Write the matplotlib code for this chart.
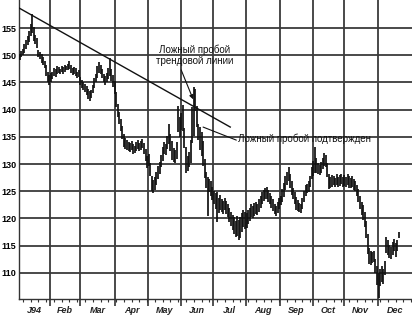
import numpy as np
import matplotlib
matplotlib.use("Agg")
import matplotlib.pyplot as plt
from matplotlib.transforms import blended_transform_factory

# trading-day OHLC ranges (high / low), one entry per day
high = [
    # Jan
    150.3, 150.8, 151.2, 152.0, 152.8, 153.5, 154.5, 155.8, 157.6, 155.2,
    153.8, 153.2, 151.0, 150.6, 150.2, 149.6, 149.0, 148.2, 147.0, 146.4,
    # Feb
    146.8, 147.0, 147.6, 147.4, 148.0, 147.8, 147.5, 148.0, 147.8, 148.2,
    148.0, 148.4, 148.9, 148.2, 147.6, 147.8, 147.6, 147.0, 147.2,
    # Mar
    146.0, 145.4, 145.0, 144.8, 144.4, 143.8, 143.4, 143.6, 144.6, 145.8,
    146.6, 148.0, 148.8, 148.2, 147.4, 146.6, 146.2, 146.8, 147.6, 149.4,
    147.4, 146.4, 145.2,
    # Apr
    143.2, 141.0, 139.6, 138.2, 137.0, 135.6, 134.8, 134.4, 134.0, 133.8,
    134.2, 133.6, 133.4, 134.0, 134.4, 133.8, 134.2, 134.6, 133.8, 132.8,
    131.4,
    # May
    131.8, 130.2, 127.8, 127.0, 127.6, 128.6, 129.6, 130.4, 131.6, 133.2,
    134.0, 133.6, 135.2, 137.4, 135.6, 134.2, 133.0, 132.6, 134.0, 140.6,
    138.6,
    # Jun
    139.4, 140.8, 136.6, 133.2, 131.4, 132.2, 134.4, 140.4, 144.2, 143.8,
    140.6, 137.4, 136.8, 135.8, 134.2, 131.0, 128.6, 127.6, 127.2, 126.8,
    125.8,
    # Jul
    125.0, 124.6, 124.8, 123.8, 124.4, 123.6, 123.2, 123.8, 123.2, 122.6,
    122.0, 121.2, 120.6, 120.2, 119.6, 120.4, 119.8, 120.2, 121.0, 121.6,
    121.2,
    # Aug
    121.0, 121.6, 122.0, 122.6, 122.2, 122.8, 123.0, 122.6, 123.6, 124.2,
    124.8, 125.2, 125.6, 125.8, 125.2, 124.6, 124.2, 123.6, 122.6, 122.2,
    123.0, 123.8,
    # Sep
    124.2, 125.4, 126.6, 127.8, 128.6, 129.4, 128.2, 126.8, 125.6, 124.8,
    124.0, 123.4, 122.8, 122.6, 123.8, 125.0, 126.2, 126.4, 126.8, 127.8,
    129.4,
    # Oct
    130.6, 133.2, 131.2, 130.2, 129.8, 130.4, 131.2, 132.0, 131.6, 130.2,
    128.2, 127.6, 128.0, 127.8, 127.4, 128.2, 127.6, 128.0, 128.2, 127.6,
    # Nov
    128.0, 127.6, 128.2, 127.8, 127.4, 127.8, 127.2, 126.8, 126.2, 125.4,
    124.2, 123.0, 122.4, 121.2, 119.6, 117.2, 114.6, 114.0, 113.8, 114.0,
    112.6, 111.2,
    # Dec
    110.0, 110.8, 111.2, 110.8, 112.2, 116.6, 116.0, 115.2, 114.8, 115.6,
    116.2, 115.4, 116.0, 117.6,
]
low = [
    # Jan
    149.2, 149.6, 150.0, 150.5, 151.2, 151.8, 152.5, 153.6, 154.0, 152.6,
    152.0, 151.4, 149.6, 149.3, 148.6, 148.2, 147.6, 146.2, 145.0, 144.6,
    # Feb
    145.0, 145.6, 146.2, 146.0, 146.6, 146.8, 146.5, 147.0, 146.6, 147.0,
    147.2, 147.2, 147.5, 146.8, 146.4, 146.6, 146.2, 145.8, 146.0,
    # Mar
    144.6, 144.0, 143.6, 143.2, 142.6, 142.0, 141.6, 142.2, 143.0, 144.0,
    145.0, 145.8, 146.8, 146.6, 145.8, 145.0, 144.6, 145.0, 145.6, 146.2,
    145.2, 144.2, 142.8,
    # Apr
    140.4, 138.6, 137.4, 136.0, 134.6, 133.2, 132.8, 132.6, 132.4, 132.2,
    132.6, 131.8, 132.0, 132.4, 132.8, 132.4, 132.6, 133.0, 131.8, 130.6,
    129.2,
    # May
    129.6, 127.8, 125.0, 124.6, 125.2, 126.2, 127.2, 128.2, 129.4, 130.6,
    131.8, 131.6, 132.8, 133.6, 132.4, 130.8, 130.4, 130.2, 131.0, 135.8,
    135.0,
    # Jun
    136.2, 136.0, 133.0, 128.4, 128.8, 129.4, 130.2, 133.8, 135.2, 139.8,
    136.8, 134.4, 132.6, 131.4, 129.6, 127.4, 125.6, 120.4, 124.8, 124.2,
    123.4,
    # Jul
    122.6, 121.8, 119.4, 121.0, 121.6, 121.2, 120.8, 121.6, 120.8, 120.2,
    119.4, 118.6, 117.8, 117.2, 116.6, 116.8, 116.0, 116.4, 117.6, 118.4,
    118.0,
    # Aug
    118.2, 119.0, 119.6, 120.2, 120.0, 120.4, 120.8, 120.6, 121.2, 122.0,
    122.6, 123.2, 123.6, 123.6, 123.0, 122.6, 122.0, 121.4, 120.8, 120.4,
    121.0, 121.8,
    # Sep
    122.4, 123.0, 124.0, 125.2, 126.2, 126.8, 125.6, 124.4, 123.6, 122.6,
    121.6, 121.4, 121.2, 121.0, 121.8, 123.0, 124.2, 124.6, 124.8, 125.8,
    127.2,
    # Oct
    127.8, 128.4, 128.4, 128.2, 128.0, 128.4, 129.0, 129.6, 129.4, 127.6,
    125.4, 125.6, 125.8, 126.2, 125.8, 126.2, 125.8, 126.0, 126.4, 125.8,
    # Nov
    126.0, 125.8, 126.2, 125.6, 125.6, 125.8, 125.2, 125.0, 124.2, 123.0,
    121.8, 120.6, 119.8, 118.4, 116.4, 113.4, 111.6, 111.4, 111.8, 112.0,
    110.0, 107.8,
    # Dec
    105.4, 107.6, 108.4, 108.0, 109.6, 113.6, 113.2, 112.8, 112.6, 113.2,
    114.0, 113.0, 114.0, 116.4,
]

months = ["J94", "Feb", "Mar", "Apr", "May", "Jun", "Jul", "Aug", "Sep", "Oct", "Nov", "Dec"]
month_days = [20, 19, 23, 21, 21, 21, 21, 22, 21, 20, 22, 22]
yticks = [110, 115, 120, 125, 130, 135, 140, 145, 150, 155]

# trendline end points (day, price)
trend_x = [-0.6, 135.5]
trend_y = [158.7, 136.8]

days = np.arange(len(high))
ends = np.cumsum(month_days)
starts = ends - np.array(month_days)
bounds = ends[:-1] - 0.5
centers = (starts + ends - 1) / 2

fig = plt.figure(figsize=(4.12, 3.21), dpi=100)
ax = fig.add_axes([19 / 412, 22 / 321, 393 / 412, 299 / 321])

ax.vlines(days, low, high, color="#111111", lw=1.25, zorder=3)
ax.plot(trend_x, trend_y, color="#111111", lw=1.0, zorder=4)

ax.set_xlim(-0.5, ends[-1] - 0.5)
ax.set_ylim(105.2, 160.15)

ax.set_xticks(bounds)
ax.set_xticklabels([])
ax.set_xticks(np.arange(2, ends[-1], 5), minor=True)
ax.tick_params(axis="x", which="major", length=5, width=1.2, color="#333333")
ax.tick_params(axis="x", which="minor", length=2, width=0.8, color="#333333")

ax.set_yticks(yticks)
ax.set_yticklabels([str(v) for v in yticks], fontfamily="Liberation Sans",
                   fontweight="bold", fontsize=6.5)
ax.tick_params(axis="y", length=0, pad=2)

ax.grid(True, which="major", color="#3a3a3a", lw=1.3)

for s in ["top", "right"]:
    ax.spines[s].set_visible(False)
ax.spines["left"].set_color("#333333")
ax.spines["bottom"].set_color("#333333")
ax.spines["left"].set_linewidth(1.0)
ax.spines["bottom"].set_linewidth(1.0)

tr = blended_transform_factory(ax.transData, ax.transAxes)
for c, m in zip(centers, months):
    ax.text(c, -0.037, m, transform=tr, ha="center", va="center",
            fontfamily="Liberation Sans", fontweight="bold", fontstyle="italic",
            fontsize=6.5, color="#222222")

ax.text(112.6, 150.0, "Ложный пробой\nтрендовой линии", ha="center", va="center",
        fontfamily="Liberation Sans", fontsize=7, color="#111111", linespacing=1.2)
ax.annotate("", xy=(111.6, 141.9), xytext=(103.9, 147.3),
            arrowprops=dict(arrowstyle="-|>", color="#111111", lw=0.8,
                            mutation_scale=6, shrinkA=0, shrinkB=0))
ax.text(140.8, 134.7, "Ложный пробой подтвержден", ha="left", va="center",
        fontfamily="Liberation Sans", fontsize=7, color="#111111")
ax.annotate("", xy=(118.0, 136.8), xytext=(139.4, 134.4),
            arrowprops=dict(arrowstyle="-", color="#111111", lw=0.8,
                            shrinkA=0, shrinkB=0))

fig.savefig("out.png", dpi=100, facecolor="white")
